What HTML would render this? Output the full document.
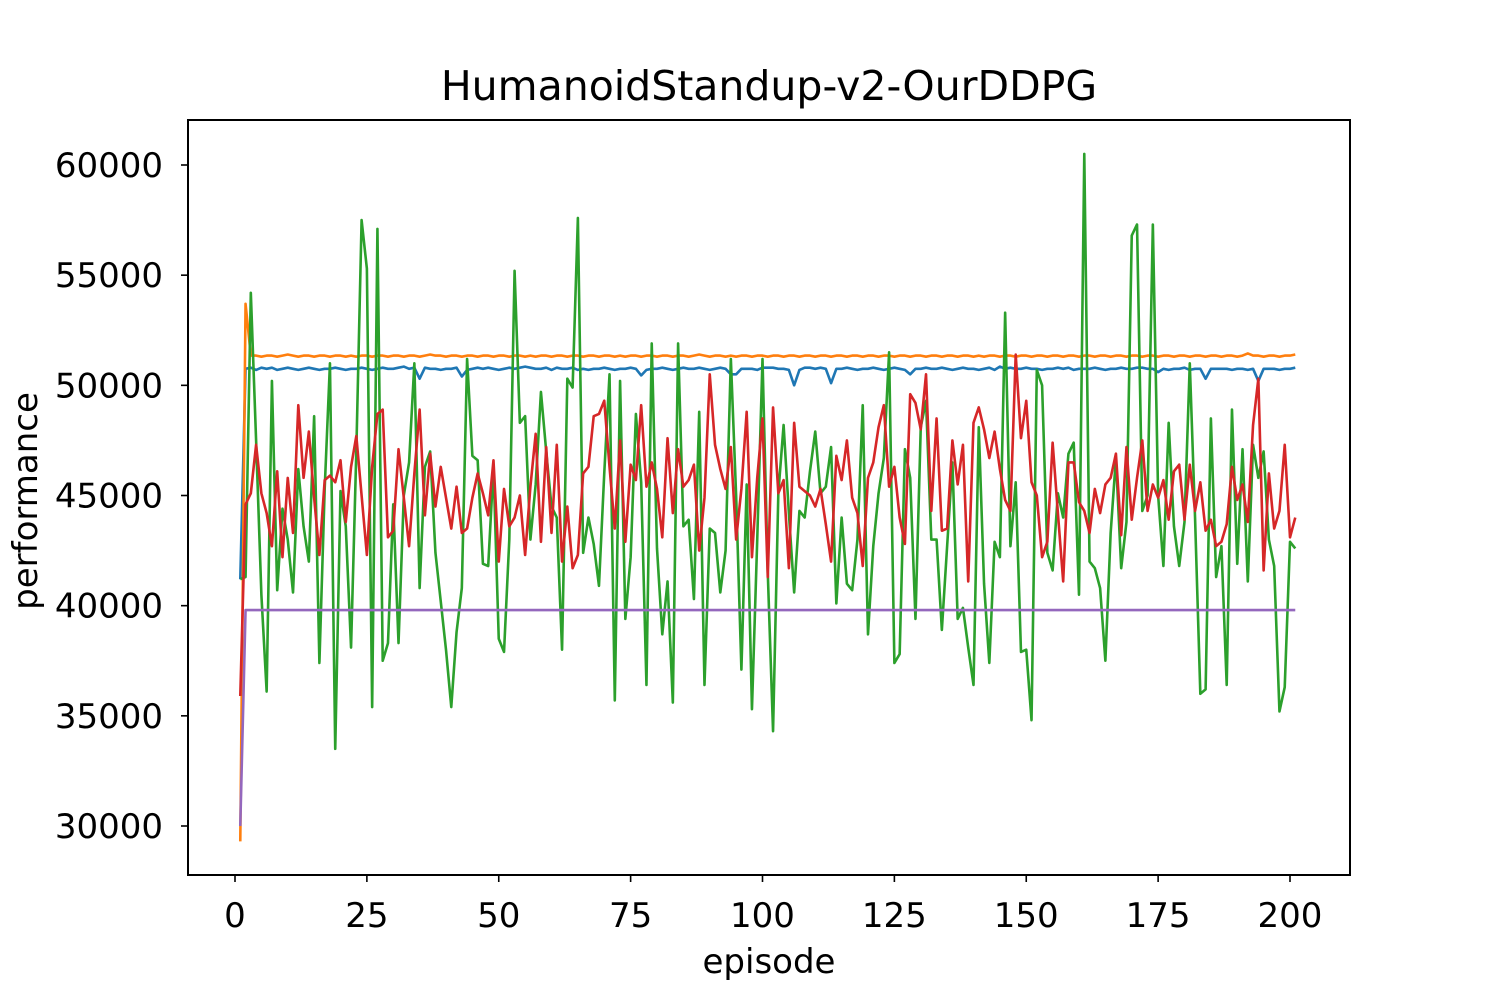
<!DOCTYPE html>
<html><head><meta charset="utf-8"><style>
html,body{margin:0;padding:0;background:#fff;}
svg{display:block;font-family:"DejaVu Sans","Liberation Sans",sans-serif;}
</style></head><body>
<svg id="chart" width="1500" height="1000" viewBox="0 0 1500 1000">
<rect x="0" y="0" width="1500" height="1000" fill="#fff"/>
<text x="769" y="100" font-size="41" text-anchor="middle">HumanoidStandup-v2-OurDDPG</text>
<g id="series"></g>
<rect x="188" y="120" width="1162" height="755" fill="none" stroke="#000" stroke-width="2"/>
<g id="xticks"></g>
<g id="yticks"></g>
<text x="769" y="973" font-size="34" text-anchor="middle">episode</text>
<text x="0" y="0" font-size="34" text-anchor="middle" transform="translate(37,501) rotate(-90)">performance</text>
</svg>
<script>
const xTicks = [0,25,50,75,100,125,150,175,200];
const yTicks = [30000,35000,40000,45000,50000,55000,60000];
const seriesBlue = [41.2,50.75,50.8,50.7,50.8,50.75,50.8,50.7,50.75,50.8,50.75,50.7,50.75,50.8,50.75,50.7,50.75,50.75,50.8,50.75,
50.7,50.75,50.75,50.8,50.75,50.7,50.75,50.8,50.75,50.75,50.8,50.85,50.75,50.8,50.3,50.8,50.75,50.75,50.7,50.75,
50.75,50.8,50.4,50.7,50.75,50.8,50.75,50.8,50.75,50.7,50.75,50.8,50.75,50.8,50.85,50.8,50.75,50.75,50.8,50.7,
50.8,50.75,50.75,50.8,50.7,50.75,50.7,50.75,50.75,50.8,50.75,50.7,50.75,50.75,50.8,50.75,50.45,50.7,50.75,50.75,
50.8,50.75,50.7,50.75,50.8,50.75,50.75,50.8,50.75,50.7,50.75,50.8,50.75,50.5,50.5,50.75,50.75,50.75,50.7,50.8,
50.8,50.8,50.75,50.75,50.7,50.0,50.7,50.8,50.8,50.75,50.8,50.75,50.1,50.75,50.75,50.8,50.75,50.7,50.75,50.75,
50.8,50.75,50.7,50.75,50.8,50.75,50.7,50.5,50.75,50.75,50.8,50.75,50.75,50.8,50.75,50.7,50.75,50.8,50.75,50.75,
50.7,50.75,50.8,50.7,50.85,50.75,50.8,50.75,50.75,50.8,50.75,50.75,50.7,50.75,50.75,50.8,50.75,50.8,50.7,50.75,
50.75,50.75,50.8,50.75,50.7,50.75,50.75,50.8,50.75,50.75,50.8,50.8,50.75,50.75,50.6,50.75,50.7,50.75,50.75,50.8,
50.7,50.75,50.75,50.3,50.75,50.75,50.75,50.75,50.7,50.75,50.75,50.7,50.75,50.2,50.75,50.75,50.75,50.7,50.75,50.75,50.8];
const seriesOrange = [29.3,53.7,51.35,51.35,51.3,51.35,51.35,51.3,51.35,51.4,51.35,51.3,51.35,51.35,51.3,51.35,51.35,51.3,51.35,51.35,
51.3,51.35,51.3,51.35,51.35,51.3,51.35,51.35,51.3,51.35,51.35,51.3,51.35,51.35,51.3,51.35,51.4,51.35,51.35,51.3,
51.35,51.35,51.3,51.35,51.35,51.3,51.35,51.35,51.3,51.35,51.35,51.3,51.35,51.35,51.3,51.35,51.3,51.35,51.35,51.3,
51.35,51.35,51.3,51.35,51.35,51.3,51.35,51.35,51.3,51.35,51.35,51.3,51.35,51.3,51.35,51.35,51.3,51.35,51.35,51.3,
51.35,51.35,51.3,51.35,51.35,51.3,51.35,51.4,51.35,51.3,51.35,51.35,51.3,51.35,51.3,51.35,51.35,51.3,51.35,51.35,
51.3,51.35,51.35,51.3,51.35,51.35,51.3,51.35,51.35,51.3,51.35,51.35,51.3,51.35,51.35,51.3,51.35,51.35,51.3,51.35,
51.35,51.3,51.35,51.35,51.3,51.35,51.35,51.3,51.35,51.35,51.3,51.35,51.35,51.3,51.35,51.35,51.3,51.35,51.35,51.3,
51.35,51.3,51.35,51.35,51.3,51.35,51.35,51.3,51.35,51.35,51.3,51.35,51.35,51.3,51.35,51.35,51.3,51.35,51.35,51.3,
51.35,51.35,51.3,51.35,51.35,51.3,51.35,51.35,51.3,51.35,51.35,51.3,51.35,51.35,51.3,51.35,51.35,51.3,51.35,51.35,
51.3,51.35,51.35,51.3,51.35,51.35,51.3,51.35,51.35,51.3,51.35,51.45,51.35,51.35,51.3,51.35,51.35,51.3,51.35,51.35,51.4];
const seriesGreen = [41.2,41.3,54.2,47.5,40.5,36.1,50.2,40.7,44.4,43.0,
40.6,46.2,43.6,42.0,48.6,37.4,45.3,51.0,33.5,45.2,
43.6,38.1,47.0,57.5,55.3,35.4,57.1,37.5,38.3,44.6,
38.3,45.0,46.5,51.0,40.8,46.3,47.0,42.4,40.2,38.0,
35.4,38.8,40.8,51.2,46.8,46.6,41.9,41.8,46.3,38.5,
37.9,43.0,55.2,48.3,48.6,43.0,45.5,49.7,47.0,44.5,
44.0,38.0,50.3,49.9,57.6,42.4,44.0,42.8,40.9,46.0,
50.5,35.7,50.2,39.4,42.2,48.7,45.6,36.4,51.9,42.6,
38.7,41.1,35.6,51.9,43.6,43.9,40.3,48.8,36.4,43.5,
43.3,40.6,42.5,51.2,45.0,37.1,45.5,35.3,43.0,51.2,
41.5,34.3,45.1,48.2,44.2,40.6,44.3,44.0,46.1,47.9,
45.1,45.4,47.2,40.1,44.0,41.0,40.7,43.0,49.1,38.7,
42.7,45.1,46.7,51.5,37.4,37.8,47.1,45.8,39.4,48.1,
49.3,43.0,43.0,38.9,42.7,46.5,39.4,39.9,38.1,36.4,
48.1,41.0,37.4,42.9,42.2,53.3,42.7,45.6,37.9,38.0,
34.8,50.7,50.0,42.4,41.6,45.1,44.0,46.9,47.4,40.5,
60.5,42.0,41.7,40.8,37.5,43.3,46.7,41.7,43.8,56.8,
57.3,44.3,45.0,57.3,45.0,41.8,48.3,43.6,41.8,43.8,
51.0,44.0,36.0,36.2,48.5,41.3,42.7,36.4,48.9,41.9,
47.1,41.1,47.3,45.8,47.0,43.0,41.8,35.2,36.3,42.9,42.6];
const seriesRed = [35.9,44.6,45.1,47.3,45.1,44.2,42.7,46.1,42.2,45.8,
43.3,49.1,45.8,47.9,44.9,42.3,45.7,45.9,45.6,46.6,
43.8,46.3,47.7,45.0,42.3,46.3,48.7,48.9,43.1,43.4,
47.1,44.9,42.7,46.0,48.9,44.1,46.9,44.5,46.3,44.9,
43.5,45.4,43.3,43.5,44.9,46.0,45.1,44.1,46.6,42.0,
45.3,43.6,44.0,45.0,42.3,45.4,47.8,42.9,47.2,43.3,
47.3,42.0,44.5,41.7,42.3,46.0,46.3,48.6,48.7,49.3,
46.3,43.5,47.5,42.9,46.4,45.7,49.1,45.4,46.5,45.3,
43.1,47.6,44.2,47.1,45.4,45.7,46.4,42.5,44.9,50.5,
47.3,46.2,45.3,47.2,43.0,45.3,48.8,42.2,45.8,48.5,
41.3,49.0,45.1,45.7,41.7,48.3,45.4,45.2,45.0,44.5,
45.3,43.7,42.0,46.8,45.7,47.5,44.9,44.2,41.8,45.8,
46.5,48.1,49.1,45.4,46.3,44.0,42.8,49.6,49.2,48.0,
50.5,44.3,48.5,43.4,43.5,47.5,45.5,47.3,41.1,48.3,
49.0,48.0,46.7,47.9,46.2,44.8,44.3,51.4,47.6,49.3,
45.6,45.0,42.2,42.9,47.4,44.2,41.1,46.5,46.5,44.7,
44.3,43.3,45.3,44.2,45.5,45.8,46.9,43.2,47.2,43.9,
45.8,47.5,44.3,45.5,44.9,45.7,43.9,46.1,46.4,43.9,
46.4,44.3,45.6,43.4,43.9,42.7,42.9,43.7,46.3,44.8,
45.5,43.8,48.2,50.3,41.6,46.0,43.5,44.3,47.3,43.1,44.0];
const seriesPurple = [30.0,39.8,39.8,39.8,39.8,39.8,39.8,39.8,39.8,39.8,39.8,39.8,39.8,39.8,39.8,39.8,39.8,39.8,39.8,39.8,
39.8,39.8,39.8,39.8,39.8,39.8,39.8,39.8,39.8,39.8,39.8,39.8,39.8,39.8,39.8,39.8,39.8,39.8,39.8,39.8,
39.8,39.8,39.8,39.8,39.8,39.8,39.8,39.8,39.8,39.8,39.8,39.8,39.8,39.8,39.8,39.8,39.8,39.8,39.8,39.8,
39.8,39.8,39.8,39.8,39.8,39.8,39.8,39.8,39.8,39.8,39.8,39.8,39.8,39.8,39.8,39.8,39.8,39.8,39.8,39.8,
39.8,39.8,39.8,39.8,39.8,39.8,39.8,39.8,39.8,39.8,39.8,39.8,39.8,39.8,39.8,39.8,39.8,39.8,39.8,39.8,
39.8,39.8,39.8,39.8,39.8,39.8,39.8,39.8,39.8,39.8,39.8,39.8,39.8,39.8,39.8,39.8,39.8,39.8,39.8,39.8,
39.8,39.8,39.8,39.8,39.8,39.8,39.8,39.8,39.8,39.8,39.8,39.8,39.8,39.8,39.8,39.8,39.8,39.8,39.8,39.8,
39.8,39.8,39.8,39.8,39.8,39.8,39.8,39.8,39.8,39.8,39.8,39.8,39.8,39.8,39.8,39.8,39.8,39.8,39.8,39.8,
39.8,39.8,39.8,39.8,39.8,39.8,39.8,39.8,39.8,39.8,39.8,39.8,39.8,39.8,39.8,39.8,39.8,39.8,39.8,39.8,
39.8,39.8,39.8,39.8,39.8,39.8,39.8,39.8,39.8,39.8,39.8,39.8,39.8,39.8,39.8,39.8,39.8,39.8,39.8,39.8,39.8];

const NS = "http://www.w3.org/2000/svg";
function xScale(e){ return 235 + (e/200)*(1290-235); }
function yScale(v){ return 826 + (v-30000)/30000*(165-826); }

const seriesGroup = document.getElementById('series');
const seriesList = [
  {vals: seriesBlue, color: '#1f77b4', name: 'series-blue-line'},
  {vals: seriesOrange, color: '#ff7f0e', name: 'series-orange-line'},
  {vals: seriesGreen, color: '#2ca02c', name: 'series-green-line'},
  {vals: seriesRed, color: '#d62728', name: 'series-red-line'},
  {vals: seriesPurple, color: '#9467bd', name: 'series-purple-line'}
];
seriesList.forEach(s => {
  const pts = s.vals.map((v,i) => xScale(i+1).toFixed(2) + ',' + yScale(v*1000).toFixed(2)).join(' ');
  const pl = document.createElementNS(NS, 'polyline');
  pl.setAttribute('points', pts);
  pl.setAttribute('fill', 'none');
  pl.setAttribute('stroke', s.color);
  pl.setAttribute('stroke-width', '2.6');
  pl.setAttribute('stroke-linejoin', 'round');
  
  
  seriesGroup.appendChild(pl);
});

const xg = document.getElementById('xticks');
xTicks.forEach(t => {
  const x = xScale(t);
  const ln = document.createElementNS(NS, 'line');
  ln.setAttribute('x1', x); ln.setAttribute('x2', x);
  ln.setAttribute('y1', 875); ln.setAttribute('y2', 882);
  ln.setAttribute('stroke', '#000'); ln.setAttribute('stroke-width', '1.6');
  
  
  xg.appendChild(ln);
  const tx = document.createElementNS(NS, 'text');
  tx.setAttribute('x', x); tx.setAttribute('y', 927);
  tx.setAttribute('font-size', '34'); tx.setAttribute('text-anchor', 'middle');
  tx.textContent = String(t);
  
  
  xg.appendChild(tx);
});
const yg = document.getElementById('yticks');
yTicks.forEach(t => {
  const y = yScale(t);
  const ln = document.createElementNS(NS, 'line');
  ln.setAttribute('x1', 181); ln.setAttribute('x2', 188);
  ln.setAttribute('y1', y); ln.setAttribute('y2', y);
  ln.setAttribute('stroke', '#000'); ln.setAttribute('stroke-width', '1.6');
  
  
  yg.appendChild(ln);
  const tx = document.createElementNS(NS, 'text');
  tx.setAttribute('x', 163); tx.setAttribute('y', y + 12);
  tx.setAttribute('font-size', '34'); tx.setAttribute('text-anchor', 'end');
  tx.textContent = String(t);
  
  
  yg.appendChild(tx);
});
</script>
</body></html>
